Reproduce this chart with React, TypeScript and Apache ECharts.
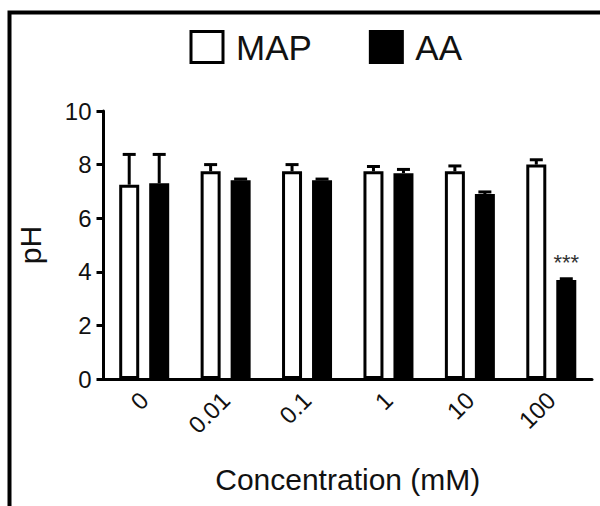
import React, { useEffect, useRef } from "react";
import * as echarts from "echarts";

const CATEGORIES = ["0", "0.01", "0.1", "1", "10", "100"];
const MAP_MEAN = [7.25, 7.75, 7.75, 7.75, 7.75, 8.0];
const MAP_ERR = [1.13, 0.25, 0.25, 0.18, 0.2, 0.18];
const AA_MEAN = [7.3, 7.42, 7.42, 7.68, 6.9, 3.69];
const AA_ERR = [1.08, 0.04, 0.04, 0.14, 0.08, 0.05];
const AA_SIG = ["", "", "", "", "", "***"];
const Y_TICKS = [0, 2, 4, 6, 8, 10];

const FONT = "'Liberation Sans', Arial, sans-serif";
const BAR_WIDTH = 20;
const BAR_GAP = 0.5;
const BORDER = 3;

function errorSeries(name: string, mean: number[], err: number[], sign: number) {
  const offset = sign * (BAR_WIDTH + BAR_WIDTH * BAR_GAP) / 2;
  return {
    type: "custom",
    name: name + "-err",
    z: 5,
    silent: true,
    data: mean.map((m, i) => [i, m, err[i]]),
    encode: { x: 0, y: 1 },
    renderItem: (params: any, api: any) => {
      const i = api.value(0);
      const m = api.value(1);
      const e = api.value(2);
      const base = api.coord([i, m]);
      const top = api.coord([i, m + e]);
      const x = base[0] + offset;
      const style = { stroke: "#000", lineWidth: BORDER, fill: "none" };
      return {
        type: "group",
        children: [
          { type: "line", shape: { x1: x, y1: base[1], x2: x, y2: top[1] }, style },
          { type: "line", shape: { x1: x - 6.5, y1: top[1], x2: x + 6.5, y2: top[1] }, style },
        ],
      };
    },
  };
}

export default function App() {
  const ref = useRef<HTMLDivElement>(null);
  useEffect(() => {
    if (!ref.current) return;
    const chart = echarts.init(ref.current, null, { renderer: "svg" });
    const option = {
      animation: false,
      backgroundColor: "#fff",
      textStyle: { fontFamily: FONT, color: "#111" },
      graphic: [
        {
          type: "rect",
          z: 100,
          shape: { x: 9.5, y: 12.5, width: 700, height: 600 },
          style: { fill: "none", stroke: "#000", lineWidth: 4 },
        },
      ],
      legend: {
        left: 189.5,
        top: 29.5,
        padding: 0,
        itemWidth: 32,
        itemHeight: 31,
        itemGap: 57,
        icon: "rect",
        textStyle: { fontSize: 35, fontFamily: FONT, color: "#111", padding: [0, 0, 0, 8] },
        data: [
          { name: "MAP", itemStyle: { color: "#fff", borderColor: "#000", borderWidth: BORDER } },
          { name: "AA", itemStyle: { color: "#000", borderColor: "#000", borderWidth: BORDER } },
        ],
      },
      grid: { left: 103.5, right: 8, top: 111, bottom: 127, containLabel: false },
      xAxis: {
        type: "category",
        data: CATEGORIES,
        name: "Concentration (mM)",
        nameLocation: "middle",
        nameGap: 85,
        nameTextStyle: { fontSize: 30, fontFamily: FONT, color: "#111" },
        axisLine: { lineStyle: { color: "#000", width: BORDER } },
        axisTick: { alignWithLabel: true, length: 8, lineStyle: { color: "#000", width: BORDER } },
        axisLabel: { rotate: 45, fontSize: 24, margin: 17, color: "#111", fontFamily: FONT },
      },
      yAxis: {
        type: "value",
        min: Y_TICKS[0],
        max: Y_TICKS[Y_TICKS.length - 1],
        interval: Y_TICKS[1] - Y_TICKS[0],
        name: "pH",
        nameLocation: "middle",
        nameGap: 58,
        nameRotate: 90,
        nameTextStyle: { fontSize: 30, fontFamily: FONT, color: "#111" },
        splitLine: { show: false },
        axisLine: { show: true, lineStyle: { color: "#000", width: BORDER } },
        axisTick: { show: true, length: 7, lineStyle: { color: "#000", width: BORDER } },
        axisLabel: { fontSize: 24, margin: 12, color: "#111", fontFamily: FONT },
      },
      series: [
        {
          type: "bar",
          name: "MAP",
          barWidth: BAR_WIDTH,
          barGap: BAR_GAP * 100 + "%",
          itemStyle: { color: "#fff", borderColor: "#000", borderWidth: BORDER },
          data: MAP_MEAN,
        },
        {
          type: "bar",
          name: "AA",
          barWidth: BAR_WIDTH,
          barGap: BAR_GAP * 100 + "%",
          itemStyle: { color: "#000", borderColor: "#000", borderWidth: BORDER },
          data: AA_MEAN.map((v, i) =>
            AA_SIG[i]
              ? {
                  value: v,
                  label: {
                    show: true,
                    position: "top",
                    distance: 7,
                    formatter: AA_SIG[i],
                    fontSize: 22,
                    color: "#333",
                    fontFamily: FONT,
                  },
                }
              : v
          ),
        },
        errorSeries("MAP", MAP_MEAN, MAP_ERR, -1),
        errorSeries("AA", AA_MEAN, AA_ERR, 1),
      ],
    };
    chart.setOption(option as any);
    return () => chart.dispose();
  }, []);
  return (
    <div
      ref={ref}
      style={{ position: "absolute", left: 0, top: 0, width: 600, height: 506 }}
    />
  );
}
